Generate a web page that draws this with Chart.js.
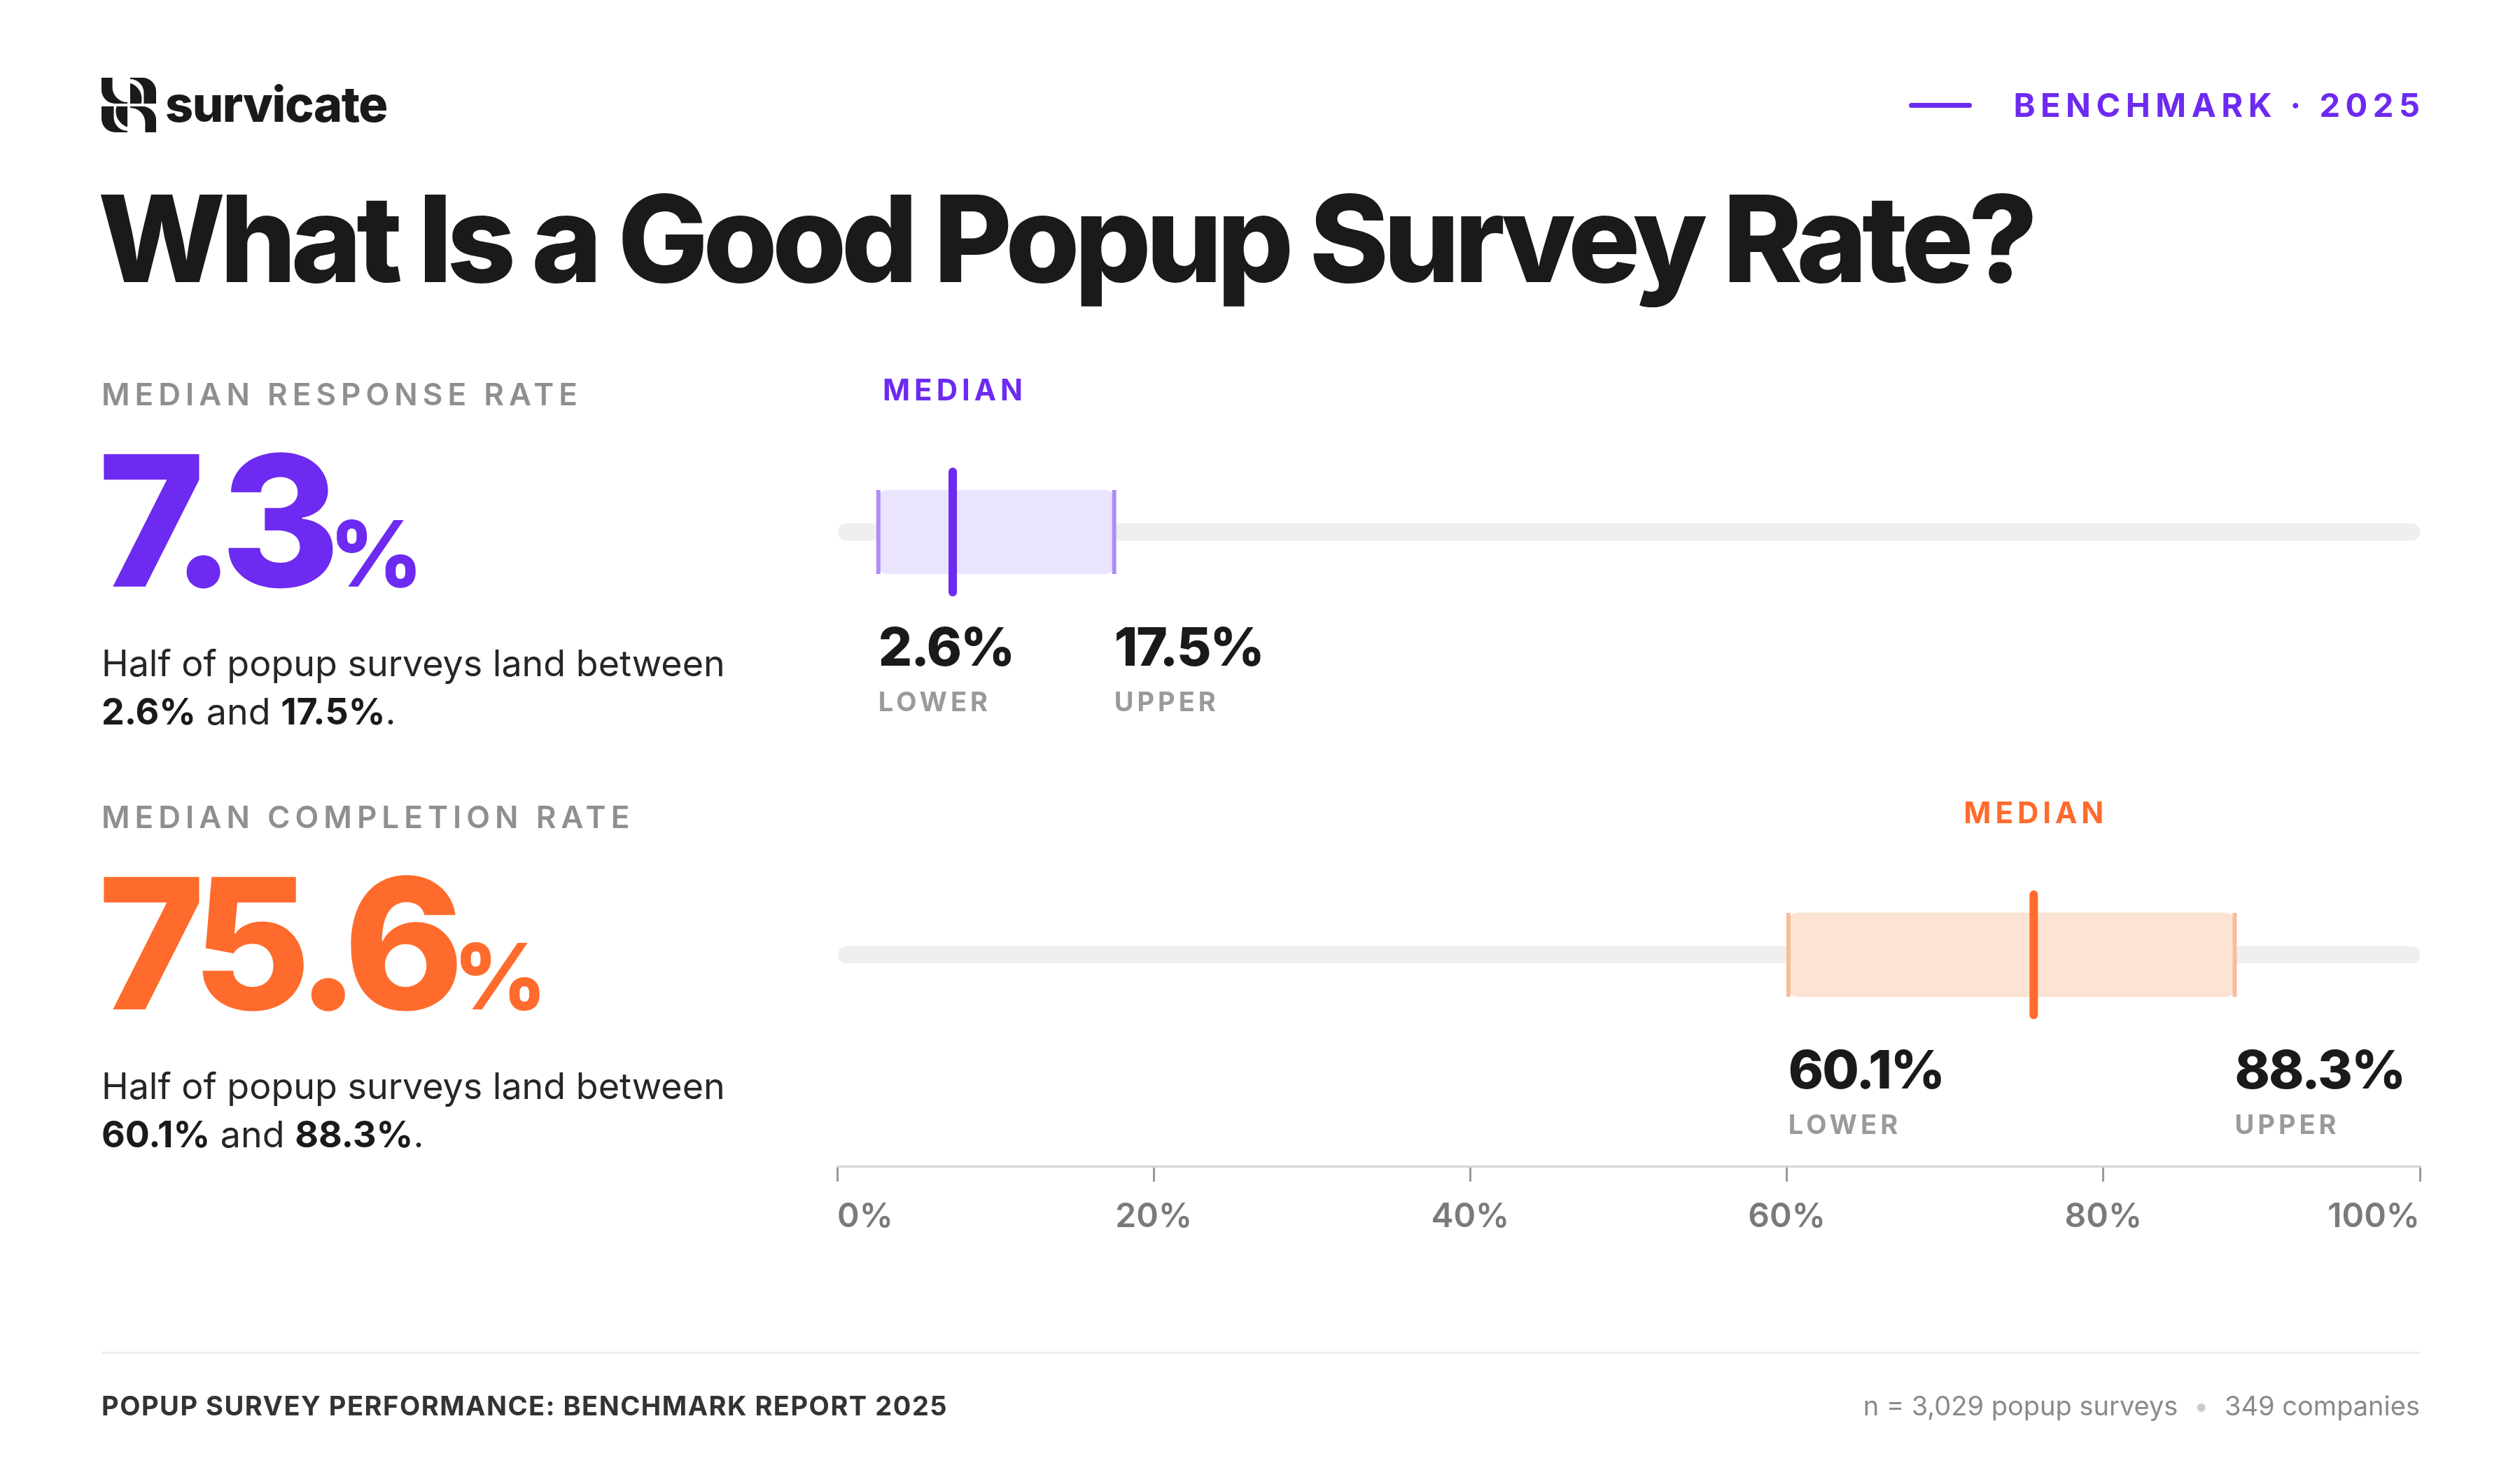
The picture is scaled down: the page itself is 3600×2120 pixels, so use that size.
<html lang="en">
<head>
  <meta charset="UTF-8" />
  <title>Popup Survey Rate</title>
  <script src="https://cdn.jsdelivr.net/npm/chart.js"></script>
  <style>
    body { margin: 0; width: 3600px; height: 2120px; background: #fff; font-family: Inter, "Noto Sans", sans-serif; position: relative; overflow: hidden; color: #1a1a1a; }
    .abs { position: absolute; white-space: nowrap; line-height: 1; }
    #chart { position: absolute; left: 0; top: 0; }
    .label { font-size: 44px; font-weight: 600; letter-spacing: 0.16em; color: #8f8f8f; }
    .big { font-size: 260px; font-weight: 800; letter-spacing: -0.06em; }
    .big span { font-size: 130px; letter-spacing: 0; }
    .para { font-size: 52px; color: #262626; line-height: 69px; }
    .para b { font-weight: 700; color: #1a1a1a; }
  </style>
</head>
<body>
  <canvas id="chart" width="3600" height="2120"></canvas>

  <svg class="abs" style="left:145px; top:111px" width="78" height="78" viewBox="0 0 80 80">
    <g fill="#1a1a1a">
      <path d="M0 0 H16 V14 A22 22 0 0 0 38 36 V38 H20 A20 20 0 0 1 0 18 Z" />
      <path d="M42 0 H60 A20 20 0 0 1 80 20 V38 H62 V22 A20 20 0 0 0 42 2 Z" />
      <path d="M42 8 A24 24 0 0 1 58 38 H42 Z" />
      <path d="M0 42 H18 V58 A20 20 0 0 0 38 78 V80 H20 A20 20 0 0 1 0 60 Z" />
      <path d="M22 42 H38 V72 A24 24 0 0 1 22 42 Z" />
      <path d="M42 42 H60 A20 20 0 0 1 80 62 V80 H64 V66 A22 22 0 0 0 42 44 Z" />
    </g>
  </svg>
  <div class="abs" style="left:236px; top:114px; font-size:70px; font-weight:800; letter-spacing:-0.02em;">survicate</div>

  <div class="abs" style="left:2727px; top:147px; width:90px; height:7px; background:#6d2af0; border-radius:4px;"></div>
  <div class="abs" style="right:143px; top:126px; font-size:47px; font-weight:700; letter-spacing:0.16em; color:#6d2af0; margin-right:-0.16em;">BENCHMARK · 2025</div>

  <div class="abs" style="left:140px; top:254px; font-size:172px; font-weight:800; letter-spacing:-0.045em;">What Is a Good Popup Survey Rate?</div>

  <div class="abs label" style="left:145px; top:541px;">MEDIAN RESPONSE RATE</div>
  <div class="abs big" style="left:140px; top:614px; color:#6d2af0;">7.3<span>%</span></div>
  <div class="abs para" style="left:145px; top:913px;">Half of popup surveys land between<br><b>2.6%</b> and <b>17.5%</b>.</div>

  <div class="abs label" style="left:145px; top:1145px;">MEDIAN COMPLETION RATE</div>
  <div class="abs big" style="left:140px; top:1218px; color:#ff6b2c;">75.6<span>%</span></div>
  <div class="abs para" style="left:145px; top:1517px;">Half of popup surveys land between<br><b>60.1%</b> and <b>88.3%</b>.</div>

  <div class="abs" style="left:145px; top:1931px; width:3312px; height:3px; background:#ececec;"></div>
  <div class="abs" style="left:145px; top:1989px; font-size:38px; font-weight:700; letter-spacing:0.04em; color:#333;">POPUP SURVEY PERFORMANCE: BENCHMARK REPORT 2025</div>
  <div class="abs" style="right:143px; top:1989px; font-size:38px; color:#8a8a8a;">n = 3,029 popup surveys <span style="color:#ccc; margin:0 12px;">•</span> 349 companies</div>

  <script>
    const rows = ['Response rate', 'Completion rate'];
    const lower = [2.6, 60.1];
    const upper = [17.5, 88.3];
    const median = [7.3, 75.6];
    const strong = ['#6d2af0', '#ff6b2c'];
    const edge = ['#b08cf7', '#f9bd98'];
    const fill = ['#ebe4fd', '#fde3d3'];
    const xTicks = [0, 20, 40, 60, 80, 100];

    const markers = {
      id: 'markers',
      afterDatasetsDraw(chart) {
        const ctx = chart.ctx;
        const x = chart.scales.x, y = chart.scales.y;
        rows.forEach((r, i) => {
          const cy = y.getPixelForValue(i);
          const xl = x.getPixelForValue(lower[i]), xu = x.getPixelForValue(upper[i]);
          const xm = x.getPixelForValue(median[i]);
          ctx.save();
          ctx.fillStyle = edge[i];
          ctx.fillRect(xl - 3, cy - 60, 6, 120);
          ctx.fillRect(xu - 3, cy - 60, 6, 120);
          ctx.strokeStyle = strong[i];
          ctx.lineWidth = 12;
          ctx.lineCap = 'round';
          ctx.beginPath();
          ctx.moveTo(xm, cy - 86);
          ctx.lineTo(xm, cy + 86);
          ctx.stroke();

          ctx.textBaseline = 'alphabetic';
          ctx.fillStyle = strong[i];
          ctx.font = '700 42px Inter';
          ctx.letterSpacing = '6px';
          ctx.textAlign = 'center';
          ctx.fillText('MEDIAN', xm + 3, cy - 188);

          ctx.textAlign = 'left';
          [[xl, lower[i], 'LOWER'], [xu, upper[i], 'UPPER']].forEach(([px, v, t]) => {
            ctx.fillStyle = '#1a1a1a';
            ctx.font = '800 76px Inter';
            ctx.letterSpacing = '-2px';
            ctx.fillText(v.toFixed(1) + '%', px, cy + 191);
            ctx.fillStyle = '#9a9a9a';
            ctx.font = '700 38px Inter';
            ctx.letterSpacing = '5px';
            ctx.fillText(t, px, cy + 256);
          });
          ctx.restore();
        });
      }
    };

    new Chart(document.getElementById('chart'), {
      type: 'bar',
      data: {
        labels: rows,
        datasets: [
          {
            data: lower.map((l, i) => [l, upper[i]]),
            backgroundColor: fill,
            barThickness: 120,
            borderRadius: 14,
            borderSkipped: false,
            grouped: false,
            order: 1
          },
          {
            data: rows.map(() => [0, 100]),
            backgroundColor: '#efefef',
            barThickness: 24,
            borderRadius: 12,
            borderSkipped: false,
            grouped: false,
            order: 2
          }
        ]
      },
      options: {
        indexAxis: 'y',
        responsive: false,
        devicePixelRatio: 1,
        animation: false,
        layout: { padding: { left: 1196, right: 143, top: 458, bottom: 334 } },
        plugins: { legend: { display: false }, tooltip: { enabled: false } },
        scales: {
          y: { display: false },
          x: {
            min: 0, max: 100,
            afterBuildTicks: s => { s.ticks = xTicks.map(v => ({ value: v })); },
            afterFit: s => { s.height = 120; },
            border: { color: '#d4d4d4', width: 3 },
            grid: { drawOnChartArea: false, color: '#9a9a9a', tickLength: 22, lineWidth: 3 },
            ticks: {
              align: 'inner',
              padding: 22,
              color: '#7a7a7a',
              font: { family: 'Inter', size: 48, weight: '600' },
              callback: v => v + '%'
            }
          }
        }
      },
      plugins: [markers]
    });
  </script>
</body>
</html>
